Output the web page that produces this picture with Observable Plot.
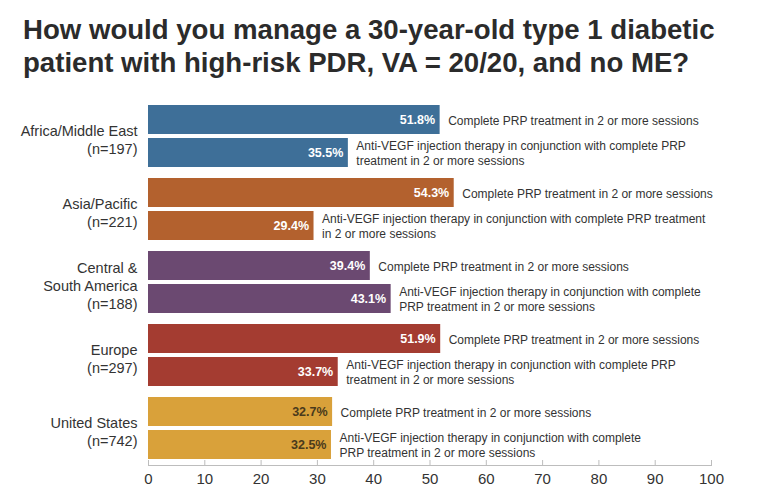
<!DOCTYPE html>
<html><head><meta charset="utf-8">
<script src="https://cdn.jsdelivr.net/npm/d3@7"></script>
<script src="https://cdn.jsdelivr.net/npm/@observablehq/plot@0.6"></script>
<style>
body{margin:0;background:#fff;font-family:"Liberation Sans",Arial,sans-serif;}
#title{box-sizing:border-box;height:88px;padding:13px 0 0 23px;font-size:27.6px;font-weight:bold;line-height:33px;color:#2b2b2b;white-space:nowrap;}
</style></head><body>
<div id="title">How would you manage a 30-year-old type 1 diabetic<br>patient with high-risk PDR, VA = 20/20, and no ME?</div>
<div id="chart"></div>
<script>
const regions = ["Africa/Middle East", "Asia/Pacific", "Central & South America", "Europe", "United States"];
const regionLabels = ["Africa/Middle East\n(n=197)", "Asia/Pacific\n(n=221)", "Central &\nSouth America\n(n=188)", "Europe\n(n=297)", "United States\n(n=742)"];
const seriesKeys = ["complete", "anti"];
const completePRP = [51.8, 54.3, 39.4, 51.9, 32.7];
const antiVEGF = [35.5, 29.4, 43.1, 33.7, 32.5];
const completeNote = "Complete PRP treatment in 2 or more sessions";
const antiNotes = [
  "Anti-VEGF injection therapy in conjunction with complete PRP\ntreatment in 2 or more sessions",
  "Anti-VEGF injection therapy in conjunction with complete PRP treatment\nin 2 or more sessions",
  "Anti-VEGF injection therapy in conjunction with complete\nPRP treatment in 2 or more sessions",
  "Anti-VEGF injection therapy in conjunction with complete PRP\ntreatment in 2 or more sessions",
  "Anti-VEGF injection therapy in conjunction with complete\nPRP treatment in 2 or more sessions"
];
const xTicks = [0, 10, 20, 30, 40, 50, 60, 70, 80, 90, 100];
const regionColors = ["#3e6f98", "#b3612e", "#6b4971", "#a43c31", "#d9a13a"];

const rows = regions.flatMap((r, i) => [
  {region: r, series: "complete", value: completePRP[i], note: completeNote},
  {region: r, series: "anti", value: antiVEGF[i], note: antiNotes[i]}
]);
const labelOf = new Map(regions.map((r, i) => [r, regionLabels[i]]));
const font = '"Liberation Sans", Arial, sans-serif';

const plot = Plot.plot({
  width: 762, height: 406,
  marginTop: 17, marginBottom: 29, marginLeft: 148, marginRight: 51,
  style: {fontFamily: font, background: "white", color: "#333"},
  x: {domain: [0, 100], axis: null, label: null},
  y: {domain: seriesKeys, paddingInner: 0.1212, paddingOuter: 0.0909, align: 0, axis: null, round: false, label: null},
  fy: {domain: regions, paddingInner: 0.0685, paddingOuter: 0, round: false, axis: null, label: null},
  color: {domain: regions, range: regionColors},
  marks: [
    Plot.barX(rows, {x: "value", y: "series", fy: "region", fill: "region"}),
    Plot.text(rows, {filter: d => d.region !== "United States", x: "value", y: "series", fy: "region",
      text: d => d.value.toFixed(1) + "%", textAnchor: "end", dx: -5, fill: "white", fontWeight: "bold", fontSize: 12.5}),
    Plot.text(rows, {filter: d => d.region === "United States", x: "value", y: "series", fy: "region",
      text: d => d.value.toFixed(1) + "%", textAnchor: "end", dx: -5, fill: "#4a3a1c", fontWeight: "bold", fontSize: 12.5}),
    Plot.text(rows, {x: "value", y: "series", fy: "region", text: "note", textAnchor: "start", dx: 8,
      fill: "#333", fontSize: 12, lineHeight: 1.2}),
    Plot.axisFy({anchor: "left", label: null, tickSize: 0, tickPadding: 11, fontSize: 14.5, lineHeight: 1.25,
      tickFormat: d => labelOf.get(d), fill: "#333"}),
    Plot.frame({anchor: "bottom", facetAnchor: "bottom", stroke: "#bdbdbd"}),
    Plot.axisX({ticks: xTicks, label: null, tickSize: 5, dy: -5, tickFormat: () => "", stroke: "#bdbdbd"}),
    Plot.axisX({ticks: xTicks, label: null, tickSize: 0, tickPadding: 8, fontSize: 15, fill: "#333"})
  ]
});
document.getElementById("chart").appendChild(plot);
</script>
</body></html>
